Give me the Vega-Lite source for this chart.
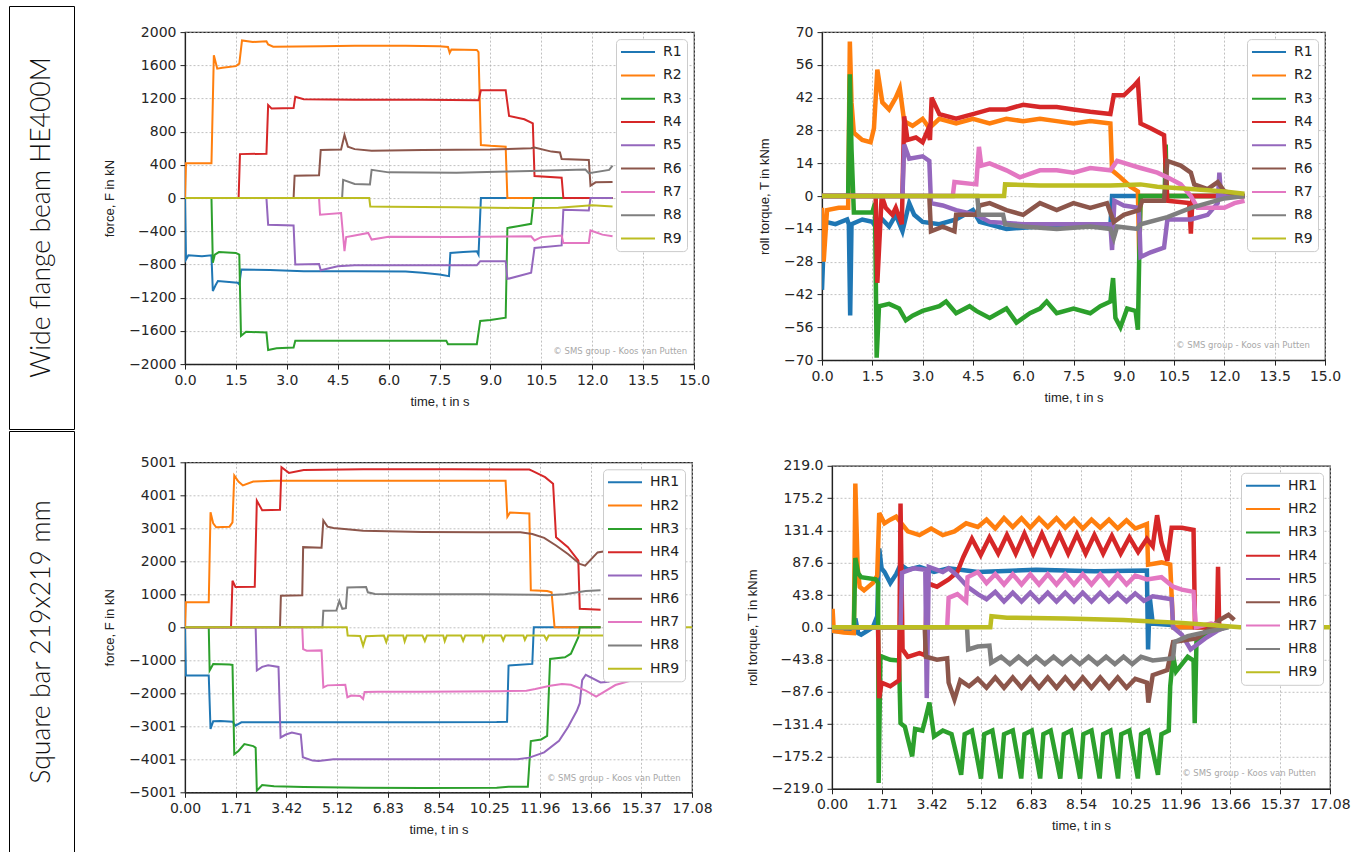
{
"$schema":"https://vega.github.io/schema/vega-lite/v6.json",
"padding":{"left":8,"top":5,"right":0,"bottom":0},
"background":"white",
"config":{
 "font":"Liberation Sans",
 "view":{"stroke":"#222","strokeWidth":1.2},
 "axis":{"labelFont":"DejaVu Sans","labelFontSize":14,"labelColor":"#262626","titleFont":"Liberation Sans","titleFontSize":13,"titleFontWeight":"normal","titleColor":"#222","domainColor":"#222","domainWidth":1.2,"tickColor":"#222","tickSize":5,"tickWidth":1,"gridColor":"#b0b0b0","gridDash":[2,2],"gridWidth":0.8,"labelFlush":false,"labelOverlap":false,"labelPadding":4,"tickCount":11},
 "axisX":{"titlePadding":8},
 "axisY":{"titlePadding":12},
 "legend":{"orient":"top-right","offset":7,"padding":5,"fillColor":"#ffffff","strokeColor":"#cccccc","cornerRadius":4,"symbolType":"M-2.43,0H2.43","symbolSize":196,"symbolStrokeWidth":2,"symbolOffset":9,"labelFont":"DejaVu Sans","labelFontSize":14,"labelColor":"#222","labelOffset":17,"rowPadding":8.3}
},
"datasets":{
"fw":[
{"s":"R1","t":0,"v":0},{"s":"R1","t":0.03,"v":-740},{"s":"R1","t":0.1,"v":-690},{"s":"R1","t":0.5,"v":-700},{"s":"R1","t":0.78,"v":-690},{"s":"R1","t":0.82,"v":-1120},{"s":"R1","t":0.9,"v":-1050},{"s":"R1","t":0.97,"v":-1000},{"s":"R1","t":1.3,"v":-1010},{"s":"R1","t":1.55,"v":-1020},{"s":"R1","t":1.6,"v":-1040},{"s":"R1","t":1.66,"v":-860},{"s":"R1","t":2.5,"v":-865},{"s":"R1","t":3.5,"v":-880},{"s":"R1","t":5,"v":-880},{"s":"R1","t":6.5,"v":-885},{"s":"R1","t":7,"v":-900},{"s":"R1","t":7.5,"v":-920},{"s":"R1","t":7.78,"v":-940},{"s":"R1","t":7.82,"v":-660},{"s":"R1","t":8.2,"v":-650},{"s":"R1","t":8.6,"v":-640},{"s":"R1","t":8.65,"v":-680},{"s":"R1","t":8.72,"v":0},{"s":"R1","t":12.6,"v":0},
{"s":"R2","t":0,"v":0},{"s":"R2","t":0.03,"v":420},{"s":"R2","t":0.78,"v":420},{"s":"R2","t":0.85,"v":1720},{"s":"R2","t":0.95,"v":1560},{"s":"R2","t":1.1,"v":1570},{"s":"R2","t":1.5,"v":1590},{"s":"R2","t":1.6,"v":1620},{"s":"R2","t":1.68,"v":1900},{"s":"R2","t":2.0,"v":1880},{"s":"R2","t":2.4,"v":1890},{"s":"R2","t":2.45,"v":1850},{"s":"R2","t":2.6,"v":1825},{"s":"R2","t":4,"v":1830},{"s":"R2","t":5,"v":1835},{"s":"R2","t":6.5,"v":1835},{"s":"R2","t":7.5,"v":1830},{"s":"R2","t":7.75,"v":1820},{"s":"R2","t":7.8,"v":1750},{"s":"R2","t":7.85,"v":1790},{"s":"R2","t":8.6,"v":1785},{"s":"R2","t":8.65,"v":1760},{"s":"R2","t":8.72,"v":640},{"s":"R2","t":9.0,"v":630},{"s":"R2","t":9.45,"v":620},{"s":"R2","t":9.5,"v":0},{"s":"R2","t":12.6,"v":0},
{"s":"R3","t":0,"v":0},{"s":"R3","t":0.78,"v":0},{"s":"R3","t":0.82,"v":-780},{"s":"R3","t":0.88,"v":-680},{"s":"R3","t":1.0,"v":-650},{"s":"R3","t":1.5,"v":-660},{"s":"R3","t":1.6,"v":-680},{"s":"R3","t":1.65,"v":-1660},{"s":"R3","t":1.8,"v":-1610},{"s":"R3","t":2.4,"v":-1620},{"s":"R3","t":2.45,"v":-1830},{"s":"R3","t":2.7,"v":-1810},{"s":"R3","t":3.2,"v":-1800},{"s":"R3","t":3.25,"v":-1720},{"s":"R3","t":5,"v":-1720},{"s":"R3","t":7.7,"v":-1720},{"s":"R3","t":7.75,"v":-1760},{"s":"R3","t":8.6,"v":-1760},{"s":"R3","t":8.7,"v":-1480},{"s":"R3","t":9.0,"v":-1470},{"s":"R3","t":9.45,"v":-1440},{"s":"R3","t":9.5,"v":-360},{"s":"R3","t":9.8,"v":-340},{"s":"R3","t":10.2,"v":-310},{"s":"R3","t":10.28,"v":0},{"s":"R3","t":12.6,"v":0},
{"s":"R4","t":0,"v":0},{"s":"R4","t":1.58,"v":0},{"s":"R4","t":1.62,"v":530},{"s":"R4","t":2.4,"v":535},{"s":"R4","t":2.45,"v":1120},{"s":"R4","t":2.55,"v":1080},{"s":"R4","t":3.2,"v":1085},{"s":"R4","t":3.25,"v":1220},{"s":"R4","t":3.5,"v":1190},{"s":"R4","t":5,"v":1185},{"s":"R4","t":7,"v":1185},{"s":"R4","t":8.65,"v":1180},{"s":"R4","t":8.72,"v":1300},{"s":"R4","t":9.45,"v":1300},{"s":"R4","t":9.55,"v":990},{"s":"R4","t":10.0,"v":950},{"s":"R4","t":10.25,"v":900},{"s":"R4","t":10.3,"v":265},{"s":"R4","t":11.1,"v":245},{"s":"R4","t":11.15,"v":0},{"s":"R4","t":12.6,"v":0},
{"s":"R5","t":0,"v":0},{"s":"R5","t":2.4,"v":0},{"s":"R5","t":2.45,"v":-320},{"s":"R5","t":3.2,"v":-330},{"s":"R5","t":3.25,"v":-800},{"s":"R5","t":3.95,"v":-795},{"s":"R5","t":4.0,"v":-870},{"s":"R5","t":4.5,"v":-820},{"s":"R5","t":5,"v":-810},{"s":"R5","t":8.6,"v":-810},{"s":"R5","t":8.7,"v":-760},{"s":"R5","t":9.45,"v":-760},{"s":"R5","t":9.5,"v":-975},{"s":"R5","t":10.2,"v":-900},{"s":"R5","t":10.3,"v":-600},{"s":"R5","t":11.1,"v":-570},{"s":"R5","t":11.15,"v":-140},{"s":"R5","t":11.9,"v":-150},{"s":"R5","t":11.95,"v":0},{"s":"R5","t":12.6,"v":0},
{"s":"R6","t":0,"v":0},{"s":"R6","t":3.2,"v":0},{"s":"R6","t":3.23,"v":270},{"s":"R6","t":3.95,"v":275},{"s":"R6","t":4.0,"v":580},{"s":"R6","t":4.6,"v":585},{"s":"R6","t":4.7,"v":760},{"s":"R6","t":4.8,"v":620},{"s":"R6","t":5.0,"v":590},{"s":"R6","t":5.5,"v":570},{"s":"R6","t":7,"v":580},{"s":"R6","t":9,"v":585},{"s":"R6","t":10.2,"v":600},{"s":"R6","t":10.3,"v":610},{"s":"R6","t":10.8,"v":560},{"s":"R6","t":11.05,"v":550},{"s":"R6","t":11.1,"v":470},{"s":"R6","t":11.9,"v":460},{"s":"R6","t":11.95,"v":150},{"s":"R6","t":12.1,"v":190},{"s":"R6","t":12.6,"v":195},
{"s":"R7","t":0,"v":0},{"s":"R7","t":3.95,"v":0},{"s":"R7","t":3.98,"v":-200},{"s":"R7","t":4.6,"v":-180},{"s":"R7","t":4.7,"v":-640},{"s":"R7","t":4.75,"v":-470},{"s":"R7","t":5.0,"v":-450},{"s":"R7","t":5.4,"v":-420},{"s":"R7","t":5.5,"v":-500},{"s":"R7","t":6,"v":-465},{"s":"R7","t":8,"v":-470},{"s":"R7","t":10.2,"v":-460},{"s":"R7","t":10.3,"v":-510},{"s":"R7","t":10.5,"v":-470},{"s":"R7","t":11.1,"v":-450},{"s":"R7","t":11.15,"v":-540},{"s":"R7","t":11.9,"v":-540},{"s":"R7","t":11.95,"v":-390},{"s":"R7","t":12.3,"v":-440},{"s":"R7","t":12.6,"v":-460},
{"s":"R8","t":0,"v":0},{"s":"R8","t":4.63,"v":0},{"s":"R8","t":4.66,"v":220},{"s":"R8","t":5.0,"v":170},{"s":"R8","t":5.45,"v":165},{"s":"R8","t":5.5,"v":340},{"s":"R8","t":6,"v":310},{"s":"R8","t":8,"v":305},{"s":"R8","t":8.6,"v":310},{"s":"R8","t":9.5,"v":320},{"s":"R8","t":10.5,"v":330},{"s":"R8","t":11,"v":335},{"s":"R8","t":11.8,"v":345},{"s":"R8","t":11.9,"v":300},{"s":"R8","t":12.5,"v":340},{"s":"R8","t":12.6,"v":390},
{"s":"R9","t":0,"v":0},{"s":"R9","t":5.43,"v":0},{"s":"R9","t":5.46,"v":-100},{"s":"R9","t":6,"v":-105},{"s":"R9","t":8,"v":-110},{"s":"R9","t":10,"v":-120},{"s":"R9","t":11,"v":-115},{"s":"R9","t":12,"v":-85},{"s":"R9","t":12.6,"v":-100}
],
"tw":[
{"s":"R1","t":0,"v":-40},{"s":"R1","t":0.05,"v":-20},{"s":"R1","t":0.1,"v":-11},{"s":"R1","t":0.4,"v":-12},{"s":"R1","t":0.75,"v":-10},{"s":"R1","t":0.8,"v":-12},{"s":"R1","t":0.84,"v":-51},{"s":"R1","t":0.88,"v":-12},{"s":"R1","t":1.2,"v":-10},{"s":"R1","t":1.5,"v":-11},{"s":"R1","t":1.6,"v":-13},{"s":"R1","t":1.8,"v":-10},{"s":"R1","t":2.0,"v":-13},{"s":"R1","t":2.2,"v":-8},{"s":"R1","t":2.4,"v":-15},{"s":"R1","t":2.6,"v":-3},{"s":"R1","t":2.75,"v":-8},{"s":"R1","t":3.0,"v":-11},{"s":"R1","t":3.5,"v":-12},{"s":"R1","t":4.0,"v":-10},{"s":"R1","t":4.5,"v":-6},{"s":"R1","t":4.7,"v":-11},{"s":"R1","t":5.5,"v":-14},{"s":"R1","t":6.5,"v":-13},{"s":"R1","t":7.5,"v":-12},{"s":"R1","t":8.6,"v":-13},{"s":"R1","t":8.65,"v":0},{"s":"R1","t":12.6,"v":0},
{"s":"R2","t":0,"v":-5},{"s":"R2","t":0.05,"v":-28},{"s":"R2","t":0.15,"v":-6},{"s":"R2","t":0.5,"v":-5},{"s":"R2","t":0.78,"v":-5},{"s":"R2","t":0.83,"v":66},{"s":"R2","t":0.88,"v":40},{"s":"R2","t":0.95,"v":27},{"s":"R2","t":1.2,"v":24},{"s":"R2","t":1.45,"v":23},{"s":"R2","t":1.55,"v":29},{"s":"R2","t":1.65,"v":54},{"s":"R2","t":1.8,"v":40},{"s":"R2","t":2.0,"v":37},{"s":"R2","t":2.2,"v":42},{"s":"R2","t":2.32,"v":46},{"s":"R2","t":2.45,"v":32},{"s":"R2","t":2.7,"v":30},{"s":"R2","t":3.0,"v":33},{"s":"R2","t":3.2,"v":29},{"s":"R2","t":3.5,"v":33},{"s":"R2","t":4,"v":31},{"s":"R2","t":4.5,"v":33},{"s":"R2","t":5,"v":31},{"s":"R2","t":5.5,"v":33},{"s":"R2","t":6,"v":32},{"s":"R2","t":6.5,"v":33},{"s":"R2","t":7,"v":32},{"s":"R2","t":7.5,"v":31},{"s":"R2","t":8,"v":32},{"s":"R2","t":8.6,"v":31},{"s":"R2","t":8.65,"v":11},{"s":"R2","t":8.9,"v":8},{"s":"R2","t":9.2,"v":4},{"s":"R2","t":9.42,"v":2},{"s":"R2","t":9.46,"v":-26},{"s":"R2","t":9.5,"v":0},{"s":"R2","t":12.6,"v":0},
{"s":"R3","t":0,"v":0},{"s":"R3","t":0.78,"v":0},{"s":"R3","t":0.83,"v":52},{"s":"R3","t":0.88,"v":20},{"s":"R3","t":0.95,"v":-7},{"s":"R3","t":1.5,"v":-7},{"s":"R3","t":1.58,"v":-3},{"s":"R3","t":1.63,"v":-69},{"s":"R3","t":1.7,"v":-47},{"s":"R3","t":2.0,"v":-46},{"s":"R3","t":2.3,"v":-48},{"s":"R3","t":2.5,"v":-53},{"s":"R3","t":2.7,"v":-51},{"s":"R3","t":3.0,"v":-49},{"s":"R3","t":3.5,"v":-47},{"s":"R3","t":3.7,"v":-45},{"s":"R3","t":4.0,"v":-50},{"s":"R3","t":4.4,"v":-47},{"s":"R3","t":4.6,"v":-49},{"s":"R3","t":5.0,"v":-52},{"s":"R3","t":5.5,"v":-48},{"s":"R3","t":5.8,"v":-54},{"s":"R3","t":6.2,"v":-50},{"s":"R3","t":6.5,"v":-48},{"s":"R3","t":6.7,"v":-45},{"s":"R3","t":7.0,"v":-50},{"s":"R3","t":7.5,"v":-48},{"s":"R3","t":8.0,"v":-50},{"s":"R3","t":8.3,"v":-47},{"s":"R3","t":8.6,"v":-45},{"s":"R3","t":8.68,"v":-35},{"s":"R3","t":8.75,"v":-52},{"s":"R3","t":8.9,"v":-56},{"s":"R3","t":9.1,"v":-48},{"s":"R3","t":9.35,"v":-49},{"s":"R3","t":9.42,"v":-57},{"s":"R3","t":9.46,"v":-26},{"s":"R3","t":9.5,"v":0},{"s":"R3","t":10.22,"v":0},{"s":"R3","t":10.25,"v":22},{"s":"R3","t":10.28,"v":0},{"s":"R3","t":12.6,"v":0},
{"s":"R4","t":0,"v":0},{"s":"R4","t":1.6,"v":0},{"s":"R4","t":1.65,"v":-37},{"s":"R4","t":1.78,"v":0},{"s":"R4","t":1.9,"v":-5},{"s":"R4","t":2.1,"v":-8},{"s":"R4","t":2.2,"v":-5},{"s":"R4","t":2.38,"v":-12},{"s":"R4","t":2.45,"v":34},{"s":"R4","t":2.55,"v":24},{"s":"R4","t":2.8,"v":25},{"s":"R4","t":3.0,"v":23},{"s":"R4","t":3.15,"v":28},{"s":"R4","t":3.22,"v":24},{"s":"R4","t":3.27,"v":42},{"s":"R4","t":3.5,"v":35},{"s":"R4","t":4.0,"v":33},{"s":"R4","t":4.5,"v":35},{"s":"R4","t":5.0,"v":37},{"s":"R4","t":5.5,"v":37},{"s":"R4","t":6.0,"v":39},{"s":"R4","t":6.5,"v":38},{"s":"R4","t":7.0,"v":38},{"s":"R4","t":7.5,"v":37},{"s":"R4","t":8.0,"v":36},{"s":"R4","t":8.6,"v":35},{"s":"R4","t":8.7,"v":43},{"s":"R4","t":9.0,"v":43},{"s":"R4","t":9.3,"v":47},{"s":"R4","t":9.42,"v":49},{"s":"R4","t":9.5,"v":31},{"s":"R4","t":9.8,"v":29},{"s":"R4","t":10.2,"v":26},{"s":"R4","t":10.3,"v":-2},{"s":"R4","t":10.95,"v":-3},{"s":"R4","t":11.0,"v":-16},{"s":"R4","t":11.05,"v":0},{"s":"R4","t":12.6,"v":0},
{"s":"R5","t":0,"v":0},{"s":"R5","t":2.4,"v":0},{"s":"R5","t":2.45,"v":22},{"s":"R5","t":2.6,"v":16},{"s":"R5","t":3.0,"v":17},{"s":"R5","t":3.2,"v":15},{"s":"R5","t":3.25,"v":-3},{"s":"R5","t":3.6,"v":-4},{"s":"R5","t":4.0,"v":-6},{"s":"R5","t":4.6,"v":-8},{"s":"R5","t":5,"v":-11},{"s":"R5","t":6,"v":-12},{"s":"R5","t":7,"v":-12},{"s":"R5","t":8.6,"v":-12},{"s":"R5","t":8.65,"v":-23},{"s":"R5","t":8.72,"v":-2},{"s":"R5","t":9.0,"v":-4},{"s":"R5","t":9.45,"v":-5},{"s":"R5","t":9.5,"v":-26},{"s":"R5","t":9.8,"v":-24},{"s":"R5","t":10.2,"v":-22},{"s":"R5","t":10.3,"v":-10},{"s":"R5","t":11.0,"v":-10},{"s":"R5","t":11.5,"v":-8},{"s":"R5","t":11.8,"v":-3},{"s":"R5","t":11.85,"v":10},{"s":"R5","t":11.9,"v":0},{"s":"R5","t":12.6,"v":0},
{"s":"R6","t":0,"v":0},{"s":"R6","t":3.2,"v":0},{"s":"R6","t":3.25,"v":-15},{"s":"R6","t":3.6,"v":-13},{"s":"R6","t":3.95,"v":-15},{"s":"R6","t":4.0,"v":-8},{"s":"R6","t":4.6,"v":-8},{"s":"R6","t":4.7,"v":-4},{"s":"R6","t":5.0,"v":-3},{"s":"R6","t":5.5,"v":-6},{"s":"R6","t":6.0,"v":-8},{"s":"R6","t":6.5,"v":-3},{"s":"R6","t":7.0,"v":-6},{"s":"R6","t":7.5,"v":-3},{"s":"R6","t":8.0,"v":-5},{"s":"R6","t":8.5,"v":-3},{"s":"R6","t":8.7,"v":-11},{"s":"R6","t":9.0,"v":-8},{"s":"R6","t":9.45,"v":-6},{"s":"R6","t":9.55,"v":-2},{"s":"R6","t":10.2,"v":-2},{"s":"R6","t":10.3,"v":15},{"s":"R6","t":10.7,"v":13},{"s":"R6","t":11.0,"v":10},{"s":"R6","t":11.1,"v":5},{"s":"R6","t":11.5,"v":3},{"s":"R6","t":11.8,"v":6},{"s":"R6","t":12.0,"v":2},{"s":"R6","t":12.6,"v":0},
{"s":"R7","t":0,"v":0},{"s":"R7","t":3.9,"v":0},{"s":"R7","t":3.95,"v":6},{"s":"R7","t":4.6,"v":5},{"s":"R7","t":4.68,"v":21},{"s":"R7","t":4.75,"v":13},{"s":"R7","t":5.0,"v":14},{"s":"R7","t":5.5,"v":11},{"s":"R7","t":5.9,"v":8},{"s":"R7","t":6.5,"v":11},{"s":"R7","t":7.0,"v":11},{"s":"R7","t":7.5,"v":10},{"s":"R7","t":8.0,"v":12},{"s":"R7","t":8.6,"v":11},{"s":"R7","t":8.8,"v":15},{"s":"R7","t":9.5,"v":12},{"s":"R7","t":10.0,"v":10},{"s":"R7","t":10.3,"v":8},{"s":"R7","t":10.7,"v":5},{"s":"R7","t":11.0,"v":0},{"s":"R7","t":11.2,"v":-5},{"s":"R7","t":12.0,"v":-5},{"s":"R7","t":12.3,"v":-3},{"s":"R7","t":12.6,"v":-2},
{"s":"R8","t":0,"v":0},{"s":"R8","t":4.63,"v":0},{"s":"R8","t":4.68,"v":-8},{"s":"R8","t":5.4,"v":-8},{"s":"R8","t":5.46,"v":-12},{"s":"R8","t":6,"v":-13},{"s":"R8","t":7,"v":-14},{"s":"R8","t":8,"v":-13},{"s":"R8","t":8.6,"v":-14},{"s":"R8","t":8.7,"v":-18},{"s":"R8","t":8.8,"v":-13},{"s":"R8","t":9.4,"v":-14},{"s":"R8","t":9.5,"v":-12},{"s":"R8","t":10.3,"v":-9},{"s":"R8","t":11.0,"v":-5},{"s":"R8","t":11.5,"v":-3},{"s":"R8","t":12.0,"v":-1},{"s":"R8","t":12.6,"v":0},
{"s":"R9","t":0,"v":0},{"s":"R9","t":5.43,"v":0},{"s":"R9","t":5.46,"v":5},{"s":"R9","t":6.5,"v":4.5},{"s":"R9","t":8.6,"v":4.5},{"s":"R9","t":9.5,"v":5},{"s":"R9","t":10,"v":4},{"s":"R9","t":11,"v":3},{"s":"R9","t":12,"v":2},{"s":"R9","t":12.6,"v":1}
],
"fs":[
{"s":"HR1","t":0,"v":0},{"s":"HR1","t":0.03,"v":-1460},{"s":"HR1","t":0.8,"v":-1460},{"s":"HR1","t":0.86,"v":-3080},{"s":"HR1","t":0.95,"v":-2850},{"s":"HR1","t":1.2,"v":-2840},{"s":"HR1","t":1.6,"v":-2860},{"s":"HR1","t":1.7,"v":-2980},{"s":"HR1","t":1.9,"v":-2880},{"s":"HR1","t":5,"v":-2880},{"s":"HR1","t":8,"v":-2880},{"s":"HR1","t":10.5,"v":-2870},{"s":"HR1","t":10.85,"v":-2860},{"s":"HR1","t":10.9,"v":-1160},{"s":"HR1","t":11.7,"v":-1110},{"s":"HR1","t":11.75,"v":0},{"s":"HR1","t":14,"v":0},
{"s":"HR2","t":0,"v":0},{"s":"HR2","t":0.03,"v":760},{"s":"HR2","t":0.8,"v":760},{"s":"HR2","t":0.86,"v":3490},{"s":"HR2","t":0.95,"v":3150},{"s":"HR2","t":1.05,"v":3030},{"s":"HR2","t":1.5,"v":3050},{"s":"HR2","t":1.6,"v":3180},{"s":"HR2","t":1.66,"v":4600},{"s":"HR2","t":1.8,"v":4420},{"s":"HR2","t":1.95,"v":4300},{"s":"HR2","t":2.3,"v":4420},{"s":"HR2","t":3,"v":4440},{"s":"HR2","t":6,"v":4440},{"s":"HR2","t":9,"v":4440},{"s":"HR2","t":10.8,"v":4440},{"s":"HR2","t":10.86,"v":3350},{"s":"HR2","t":10.95,"v":3480},{"s":"HR2","t":11.6,"v":3450},{"s":"HR2","t":11.65,"v":1120},{"s":"HR2","t":12.2,"v":1100},{"s":"HR2","t":12.35,"v":1060},{"s":"HR2","t":12.45,"v":0},{"s":"HR2","t":14,"v":0},
{"s":"HR3","t":0,"v":0},{"s":"HR3","t":0.8,"v":0},{"s":"HR3","t":0.83,"v":-1310},{"s":"HR3","t":0.95,"v":-1110},{"s":"HR3","t":1.5,"v":-1130},{"s":"HR3","t":1.6,"v":-1140},{"s":"HR3","t":1.66,"v":-3850},{"s":"HR3","t":1.8,"v":-3750},{"s":"HR3","t":2.0,"v":-3540},{"s":"HR3","t":2.3,"v":-3600},{"s":"HR3","t":2.38,"v":-3650},{"s":"HR3","t":2.42,"v":-4950},{"s":"HR3","t":2.6,"v":-4780},{"s":"HR3","t":3.0,"v":-4820},{"s":"HR3","t":4,"v":-4840},{"s":"HR3","t":6,"v":-4860},{"s":"HR3","t":8,"v":-4870},{"s":"HR3","t":10.5,"v":-4860},{"s":"HR3","t":10.9,"v":-4830},{"s":"HR3","t":11.55,"v":-4830},{"s":"HR3","t":11.65,"v":-3450},{"s":"HR3","t":12.0,"v":-3400},{"s":"HR3","t":12.2,"v":-3290},{"s":"HR3","t":12.3,"v":-960},{"s":"HR3","t":12.8,"v":-910},{"s":"HR3","t":13.0,"v":-800},{"s":"HR3","t":13.25,"v":-300},{"s":"HR3","t":13.3,"v":0},{"s":"HR3","t":14,"v":0},
{"s":"HR4","t":0,"v":0},{"s":"HR4","t":1.55,"v":0},{"s":"HR4","t":1.6,"v":1410},{"s":"HR4","t":1.7,"v":1220},{"s":"HR4","t":2.35,"v":1230},{"s":"HR4","t":2.42,"v":3840},{"s":"HR4","t":2.6,"v":3550},{"s":"HR4","t":3.2,"v":3560},{"s":"HR4","t":3.25,"v":4850},{"s":"HR4","t":3.5,"v":4680},{"s":"HR4","t":4.0,"v":4770},{"s":"HR4","t":6,"v":4790},{"s":"HR4","t":9,"v":4790},{"s":"HR4","t":11.6,"v":4780},{"s":"HR4","t":11.7,"v":4740},{"s":"HR4","t":12.13,"v":4550},{"s":"HR4","t":12.4,"v":4350},{"s":"HR4","t":12.5,"v":2730},{"s":"HR4","t":12.9,"v":2430},{"s":"HR4","t":13.25,"v":2020},{"s":"HR4","t":13.3,"v":560},{"s":"HR4","t":14,"v":530},
{"s":"HR5","t":0,"v":0},{"s":"HR5","t":2.38,"v":0},{"s":"HR5","t":2.42,"v":-1310},{"s":"HR5","t":2.6,"v":-1200},{"s":"HR5","t":2.8,"v":-1150},{"s":"HR5","t":3.15,"v":-1200},{"s":"HR5","t":3.22,"v":-3340},{"s":"HR5","t":3.4,"v":-3250},{"s":"HR5","t":3.6,"v":-3190},{"s":"HR5","t":3.9,"v":-3250},{"s":"HR5","t":3.97,"v":-3940},{"s":"HR5","t":4.3,"v":-4040},{"s":"HR5","t":4.5,"v":-4050},{"s":"HR5","t":5,"v":-4000},{"s":"HR5","t":8,"v":-4000},{"s":"HR5","t":11.2,"v":-4000},{"s":"HR5","t":11.6,"v":-3950},{"s":"HR5","t":12.1,"v":-3790},{"s":"HR5","t":12.6,"v":-3440},{"s":"HR5","t":12.9,"v":-3030},{"s":"HR5","t":13.2,"v":-2530},{"s":"HR5","t":13.3,"v":-2300},{"s":"HR5","t":13.38,"v":-1600},{"s":"HR5","t":13.5,"v":-1440},{"s":"HR5","t":14.0,"v":-1670},{"s":"HR5","t":14.3,"v":-1650},
{"s":"HR6","t":0,"v":0},{"s":"HR6","t":3.2,"v":0},{"s":"HR6","t":3.23,"v":960},{"s":"HR6","t":3.95,"v":970},{"s":"HR6","t":3.98,"v":2430},{"s":"HR6","t":4.6,"v":2410},{"s":"HR6","t":4.66,"v":3240},{"s":"HR6","t":4.8,"v":3050},{"s":"HR6","t":5.0,"v":3010},{"s":"HR6","t":6.0,"v":2930},{"s":"HR6","t":8,"v":2890},{"s":"HR6","t":10,"v":2880},{"s":"HR6","t":11.3,"v":2880},{"s":"HR6","t":11.7,"v":2830},{"s":"HR6","t":12.1,"v":2710},{"s":"HR6","t":12.5,"v":2480},{"s":"HR6","t":12.9,"v":2220},{"s":"HR6","t":13.3,"v":1920},{"s":"HR6","t":13.48,"v":1870},{"s":"HR6","t":13.9,"v":2270},{"s":"HR6","t":14.3,"v":2330},
{"s":"HR7","t":0,"v":0},{"s":"HR7","t":3.95,"v":0},{"s":"HR7","t":3.98,"v":-660},{"s":"HR7","t":4.1,"v":-710},{"s":"HR7","t":4.6,"v":-700},{"s":"HR7","t":4.66,"v":-1820},{"s":"HR7","t":4.8,"v":-1760},{"s":"HR7","t":5.4,"v":-1740},{"s":"HR7","t":5.47,"v":-2120},{"s":"HR7","t":5.6,"v":-2070},{"s":"HR7","t":5.9,"v":-2080},{"s":"HR7","t":6.0,"v":-2170},{"s":"HR7","t":6.05,"v":-1960},{"s":"HR7","t":6.5,"v":-1950},{"s":"HR7","t":8,"v":-1950},{"s":"HR7","t":10.6,"v":-1940},{"s":"HR7","t":11.5,"v":-1920},{"s":"HR7","t":11.8,"v":-1870},{"s":"HR7","t":12.3,"v":-1770},{"s":"HR7","t":12.7,"v":-1720},{"s":"HR7","t":13.0,"v":-1740},{"s":"HR7","t":13.5,"v":-1920},{"s":"HR7","t":13.85,"v":-2100},{"s":"HR7","t":14.5,"v":-1750},{"s":"HR7","t":15.0,"v":-1620},
{"s":"HR8","t":0,"v":0},{"s":"HR8","t":4.63,"v":0},{"s":"HR8","t":4.66,"v":500},{"s":"HR8","t":5.1,"v":510},{"s":"HR8","t":5.2,"v":800},{"s":"HR8","t":5.3,"v":560},{"s":"HR8","t":5.42,"v":580},{"s":"HR8","t":5.47,"v":1210},{"s":"HR8","t":6.1,"v":1220},{"s":"HR8","t":6.16,"v":1060},{"s":"HR8","t":6.4,"v":1010},{"s":"HR8","t":8,"v":1000},{"s":"HR8","t":10,"v":1000},{"s":"HR8","t":11.8,"v":990},{"s":"HR8","t":12.2,"v":970},{"s":"HR8","t":12.8,"v":1000},{"s":"HR8","t":13.5,"v":1100},{"s":"HR8","t":14.0,"v":1120},
{"s":"HR9","t":0,"v":0},{"s":"HR9","t":5.45,"v":0},{"s":"HR9","t":5.48,"v":-250},{"s":"HR9","t":5.9,"v":-260},{"s":"HR9","t":6.0,"v":-560},{"s":"HR9","t":6.1,"v":-270},{"s":"HR9","t":6.7,"v":-250},{"s":"HR9","t":6.78,"v":-450},{"s":"HR9","t":6.85,"v":-250},{"s":"HR9","t":7.35,"v":-250},{"s":"HR9","t":7.4,"v":-430},{"s":"HR9","t":7.47,"v":-250},{"s":"HR9","t":8.0,"v":-250},{"s":"HR9","t":8.08,"v":-420},{"s":"HR9","t":8.15,"v":-250},{"s":"HR9","t":8.7,"v":-250},{"s":"HR9","t":8.75,"v":-420},{"s":"HR9","t":8.82,"v":-250},{"s":"HR9","t":9.3,"v":-250},{"s":"HR9","t":9.37,"v":-410},{"s":"HR9","t":9.44,"v":-250},{"s":"HR9","t":10.0,"v":-250},{"s":"HR9","t":10.04,"v":-400},{"s":"HR9","t":10.1,"v":-250},{"s":"HR9","t":10.65,"v":-250},{"s":"HR9","t":10.72,"v":-400},{"s":"HR9","t":10.79,"v":-250},{"s":"HR9","t":11.4,"v":-250},{"s":"HR9","t":11.45,"v":-380},{"s":"HR9","t":11.52,"v":-250},{"s":"HR9","t":12.1,"v":-250},{"s":"HR9","t":12.18,"v":-380},{"s":"HR9","t":12.25,"v":-250},{"s":"HR9","t":14.5,"v":-250},{"s":"HR9","t":14.55,"v":0},{"s":"HR9","t":17.08,"v":0}
],
"ts":[
{"s":"HR1","t":0,"v":0},{"s":"HR1","t":0.03,"v":-5},{"s":"HR1","t":0.75,"v":-6},{"s":"HR1","t":0.8,"v":12},{"s":"HR1","t":0.9,"v":-8},{"s":"HR1","t":1.0,"v":-10},{"s":"HR1","t":1.2,"v":-5},{"s":"HR1","t":1.4,"v":0},{"s":"HR1","t":1.55,"v":15},{"s":"HR1","t":1.62,"v":107},{"s":"HR1","t":1.7,"v":80},{"s":"HR1","t":1.8,"v":75},{"s":"HR1","t":2.0,"v":60},{"s":"HR1","t":2.2,"v":72},{"s":"HR1","t":2.35,"v":85},{"s":"HR1","t":2.6,"v":78},{"s":"HR1","t":3.0,"v":82},{"s":"HR1","t":3.5,"v":75},{"s":"HR1","t":4.0,"v":80},{"s":"HR1","t":5,"v":75},{"s":"HR1","t":7,"v":78},{"s":"HR1","t":9,"v":76},{"s":"HR1","t":10.8,"v":77},{"s":"HR1","t":10.84,"v":-30},{"s":"HR1","t":10.9,"v":40},{"s":"HR1","t":11.0,"v":5},{"s":"HR1","t":11.65,"v":3},{"s":"HR1","t":11.7,"v":0},{"s":"HR1","t":13.5,"v":0},
{"s":"HR2","t":0,"v":0},{"s":"HR2","t":0.02,"v":25},{"s":"HR2","t":0.06,"v":-5},{"s":"HR2","t":0.4,"v":-7},{"s":"HR2","t":0.75,"v":-8},{"s":"HR2","t":0.8,"v":195},{"s":"HR2","t":0.88,"v":80},{"s":"HR2","t":0.95,"v":55},{"s":"HR2","t":1.1,"v":50},{"s":"HR2","t":1.4,"v":60},{"s":"HR2","t":1.55,"v":70},{"s":"HR2","t":1.62,"v":155},{"s":"HR2","t":1.8,"v":141},{"s":"HR2","t":2.0,"v":146},{"s":"HR2","t":2.2,"v":150},{"s":"HR2","t":2.4,"v":140},{"s":"HR2","t":2.6,"v":130},{"s":"HR2","t":3.0,"v":125},{"s":"HR2","t":3.4,"v":134},{"s":"HR2","t":3.8,"v":125},{"s":"HR2","t":4.2,"v":130},{"s":"HR2","t":4.6,"v":141},{"s":"HR2","t":5.0,"v":136},{"s":"HR2","t":5.3,"v":146},{"s":"HR2","t":5.6,"v":134},{"s":"HR2","t":5.9,"v":148},{"s":"HR2","t":6.2,"v":136},{"s":"HR2","t":6.5,"v":148},{"s":"HR2","t":6.8,"v":135},{"s":"HR2","t":7.1,"v":148},{"s":"HR2","t":7.4,"v":136},{"s":"HR2","t":7.7,"v":148},{"s":"HR2","t":8.0,"v":135},{"s":"HR2","t":8.3,"v":147},{"s":"HR2","t":8.6,"v":134},{"s":"HR2","t":8.9,"v":146},{"s":"HR2","t":9.2,"v":135},{"s":"HR2","t":9.5,"v":146},{"s":"HR2","t":9.8,"v":134},{"s":"HR2","t":10.1,"v":145},{"s":"HR2","t":10.4,"v":134},{"s":"HR2","t":10.8,"v":140},{"s":"HR2","t":10.84,"v":85},{"s":"HR2","t":11.3,"v":88},{"s":"HR2","t":11.6,"v":85},{"s":"HR2","t":11.65,"v":42},{"s":"HR2","t":11.7,"v":0},{"s":"HR2","t":13.5,"v":0},
{"s":"HR3","t":0,"v":0},{"s":"HR3","t":0.75,"v":0},{"s":"HR3","t":0.8,"v":94},{"s":"HR3","t":0.9,"v":73},{"s":"HR3","t":1.0,"v":68},{"s":"HR3","t":1.5,"v":65},{"s":"HR3","t":1.58,"v":60},{"s":"HR3","t":1.6,"v":-211},{"s":"HR3","t":1.66,"v":-39},{"s":"HR3","t":2.0,"v":-44},{"s":"HR3","t":2.3,"v":-45},{"s":"HR3","t":2.35,"v":-130},{"s":"HR3","t":2.5,"v":-135},{"s":"HR3","t":2.75,"v":-175},{"s":"HR3","t":2.85,"v":-138},{"s":"HR3","t":3.1,"v":-140},{"s":"HR3","t":3.2,"v":-125},{"s":"HR3","t":3.34,"v":-102},{"s":"HR3","t":3.5,"v":-148},{"s":"HR3","t":3.8,"v":-140},{"s":"HR3","t":4.1,"v":-145},{"s":"HR3","t":4.43,"v":-200},{"s":"HR3","t":4.55,"v":-145},{"s":"HR3","t":4.8,"v":-140},{"s":"HR3","t":5.11,"v":-205},{"s":"HR3","t":5.22,"v":-145},{"s":"HR3","t":5.5,"v":-140},{"s":"HR3","t":5.78,"v":-205},{"s":"HR3","t":5.9,"v":-145},{"s":"HR3","t":6.2,"v":-140},{"s":"HR3","t":6.49,"v":-205},{"s":"HR3","t":6.6,"v":-145},{"s":"HR3","t":6.85,"v":-140},{"s":"HR3","t":7.14,"v":-205},{"s":"HR3","t":7.25,"v":-145},{"s":"HR3","t":7.5,"v":-140},{"s":"HR3","t":7.83,"v":-205},{"s":"HR3","t":7.95,"v":-145},{"s":"HR3","t":8.2,"v":-140},{"s":"HR3","t":8.51,"v":-205},{"s":"HR3","t":8.62,"v":-145},{"s":"HR3","t":8.9,"v":-140},{"s":"HR3","t":9.18,"v":-205},{"s":"HR3","t":9.3,"v":-145},{"s":"HR3","t":9.55,"v":-140},{"s":"HR3","t":9.81,"v":-205},{"s":"HR3","t":9.92,"v":-145},{"s":"HR3","t":10.2,"v":-140},{"s":"HR3","t":10.49,"v":-205},{"s":"HR3","t":10.6,"v":-145},{"s":"HR3","t":10.85,"v":-140},{"s":"HR3","t":11.18,"v":-200},{"s":"HR3","t":11.3,"v":-145},{"s":"HR3","t":11.55,"v":-140},{"s":"HR3","t":11.6,"v":-80},{"s":"HR3","t":11.7,"v":-39},{"s":"HR3","t":11.8,"v":-60},{"s":"HR3","t":12.0,"v":-50},{"s":"HR3","t":12.2,"v":-40},{"s":"HR3","t":12.4,"v":-45},{"s":"HR3","t":12.44,"v":-130},{"s":"HR3","t":12.5,"v":-20},{"s":"HR3","t":13.0,"v":-5},{"s":"HR3","t":13.5,"v":0},
{"s":"HR4","t":0,"v":0},{"s":"HR4","t":1.58,"v":0},{"s":"HR4","t":1.62,"v":-96},{"s":"HR4","t":1.7,"v":-75},{"s":"HR4","t":2.0,"v":-80},{"s":"HR4","t":2.3,"v":-72},{"s":"HR4","t":2.35,"v":168},{"s":"HR4","t":2.42,"v":-30},{"s":"HR4","t":2.6,"v":-40},{"s":"HR4","t":3.0,"v":-35},{"s":"HR4","t":3.2,"v":-38},{"s":"HR4","t":3.25,"v":60},{"s":"HR4","t":3.6,"v":55},{"s":"HR4","t":4.0,"v":65},{"s":"HR4","t":4.3,"v":75},{"s":"HR4","t":4.5,"v":95},{"s":"HR4","t":4.8,"v":120},{"s":"HR4","t":5.1,"v":98},{"s":"HR4","t":5.4,"v":122},{"s":"HR4","t":5.7,"v":100},{"s":"HR4","t":6.0,"v":125},{"s":"HR4","t":6.3,"v":100},{"s":"HR4","t":6.6,"v":127},{"s":"HR4","t":6.9,"v":100},{"s":"HR4","t":7.2,"v":127},{"s":"HR4","t":7.5,"v":100},{"s":"HR4","t":7.8,"v":126},{"s":"HR4","t":8.1,"v":100},{"s":"HR4","t":8.4,"v":126},{"s":"HR4","t":8.7,"v":100},{"s":"HR4","t":9.0,"v":125},{"s":"HR4","t":9.3,"v":100},{"s":"HR4","t":9.6,"v":124},{"s":"HR4","t":9.9,"v":100},{"s":"HR4","t":10.2,"v":122},{"s":"HR4","t":10.5,"v":102},{"s":"HR4","t":10.8,"v":120},{"s":"HR4","t":11.0,"v":110},{"s":"HR4","t":11.15,"v":152},{"s":"HR4","t":11.3,"v":115},{"s":"HR4","t":11.5,"v":90},{"s":"HR4","t":11.65,"v":135},{"s":"HR4","t":12.0,"v":135},{"s":"HR4","t":12.4,"v":132},{"s":"HR4","t":12.45,"v":0},{"s":"HR4","t":13.2,"v":0},{"s":"HR4","t":13.24,"v":82},{"s":"HR4","t":13.28,"v":0},{"s":"HR4","t":13.5,"v":0},
{"s":"HR5","t":0,"v":0},{"s":"HR5","t":2.35,"v":0},{"s":"HR5","t":2.4,"v":74},{"s":"HR5","t":2.8,"v":80},{"s":"HR5","t":3.2,"v":78},{"s":"HR5","t":3.25,"v":-96},{"s":"HR5","t":3.32,"v":82},{"s":"HR5","t":3.6,"v":78},{"s":"HR5","t":3.8,"v":75},{"s":"HR5","t":4.0,"v":80},{"s":"HR5","t":4.3,"v":70},{"s":"HR5","t":4.65,"v":55},{"s":"HR5","t":5.0,"v":45},{"s":"HR5","t":5.3,"v":38},{"s":"HR5","t":5.6,"v":48},{"s":"HR5","t":5.9,"v":35},{"s":"HR5","t":6.2,"v":47},{"s":"HR5","t":6.5,"v":35},{"s":"HR5","t":6.8,"v":47},{"s":"HR5","t":7.1,"v":35},{"s":"HR5","t":7.4,"v":47},{"s":"HR5","t":7.7,"v":35},{"s":"HR5","t":8.0,"v":47},{"s":"HR5","t":8.3,"v":35},{"s":"HR5","t":8.6,"v":47},{"s":"HR5","t":8.9,"v":35},{"s":"HR5","t":9.2,"v":47},{"s":"HR5","t":9.5,"v":35},{"s":"HR5","t":9.8,"v":46},{"s":"HR5","t":10.1,"v":35},{"s":"HR5","t":10.4,"v":46},{"s":"HR5","t":10.7,"v":36},{"s":"HR5","t":11.0,"v":42},{"s":"HR5","t":11.65,"v":38},{"s":"HR5","t":11.7,"v":0},{"s":"HR5","t":12.0,"v":-10},{"s":"HR5","t":12.3,"v":-30},{"s":"HR5","t":12.8,"v":-15},{"s":"HR5","t":13.2,"v":-5},{"s":"HR5","t":13.5,"v":0},
{"s":"HR6","t":0,"v":0},{"s":"HR6","t":3.18,"v":0},{"s":"HR6","t":3.22,"v":-40},{"s":"HR6","t":3.6,"v":-44},{"s":"HR6","t":3.95,"v":-42},{"s":"HR6","t":4.0,"v":-75},{"s":"HR6","t":4.2,"v":-98},{"s":"HR6","t":4.4,"v":-72},{"s":"HR6","t":4.7,"v":-80},{"s":"HR6","t":5.0,"v":-70},{"s":"HR6","t":5.3,"v":-82},{"s":"HR6","t":5.6,"v":-68},{"s":"HR6","t":5.9,"v":-82},{"s":"HR6","t":6.2,"v":-68},{"s":"HR6","t":6.5,"v":-82},{"s":"HR6","t":6.8,"v":-68},{"s":"HR6","t":7.1,"v":-82},{"s":"HR6","t":7.4,"v":-68},{"s":"HR6","t":7.7,"v":-82},{"s":"HR6","t":8.0,"v":-68},{"s":"HR6","t":8.3,"v":-82},{"s":"HR6","t":8.6,"v":-68},{"s":"HR6","t":8.9,"v":-82},{"s":"HR6","t":9.2,"v":-68},{"s":"HR6","t":9.5,"v":-82},{"s":"HR6","t":9.8,"v":-68},{"s":"HR6","t":10.1,"v":-82},{"s":"HR6","t":10.4,"v":-70},{"s":"HR6","t":10.8,"v":-75},{"s":"HR6","t":10.85,"v":-102},{"s":"HR6","t":11.0,"v":-65},{"s":"HR6","t":11.5,"v":-58},{"s":"HR6","t":11.7,"v":-20},{"s":"HR6","t":12.5,"v":-15},{"s":"HR6","t":13.0,"v":0},{"s":"HR6","t":13.3,"v":10},{"s":"HR6","t":13.6,"v":17},{"s":"HR6","t":13.8,"v":10},
{"s":"HR7","t":0,"v":0},{"s":"HR7","t":3.95,"v":0},{"s":"HR7","t":4.0,"v":40},{"s":"HR7","t":4.3,"v":45},{"s":"HR7","t":4.6,"v":35},{"s":"HR7","t":4.65,"v":68},{"s":"HR7","t":5.0,"v":75},{"s":"HR7","t":5.3,"v":60},{"s":"HR7","t":5.6,"v":72},{"s":"HR7","t":5.9,"v":58},{"s":"HR7","t":6.2,"v":72},{"s":"HR7","t":6.5,"v":58},{"s":"HR7","t":6.8,"v":72},{"s":"HR7","t":7.1,"v":58},{"s":"HR7","t":7.4,"v":72},{"s":"HR7","t":7.7,"v":58},{"s":"HR7","t":8.0,"v":72},{"s":"HR7","t":8.3,"v":58},{"s":"HR7","t":8.6,"v":72},{"s":"HR7","t":8.9,"v":58},{"s":"HR7","t":9.2,"v":72},{"s":"HR7","t":9.5,"v":58},{"s":"HR7","t":9.8,"v":72},{"s":"HR7","t":10.1,"v":58},{"s":"HR7","t":10.4,"v":70},{"s":"HR7","t":10.8,"v":65},{"s":"HR7","t":11.3,"v":68},{"s":"HR7","t":11.7,"v":55},{"s":"HR7","t":12.0,"v":51},{"s":"HR7","t":12.4,"v":48},{"s":"HR7","t":12.48,"v":0},{"s":"HR7","t":13.0,"v":5},{"s":"HR7","t":13.5,"v":0},
{"s":"HR8","t":0,"v":0},{"s":"HR8","t":4.63,"v":0},{"s":"HR8","t":4.67,"v":-30},{"s":"HR8","t":5.0,"v":-26},{"s":"HR8","t":5.4,"v":-25},{"s":"HR8","t":5.46,"v":-48},{"s":"HR8","t":5.8,"v":-40},{"s":"HR8","t":6.1,"v":-50},{"s":"HR8","t":6.4,"v":-40},{"s":"HR8","t":6.7,"v":-50},{"s":"HR8","t":7.0,"v":-40},{"s":"HR8","t":7.3,"v":-50},{"s":"HR8","t":7.6,"v":-40},{"s":"HR8","t":7.9,"v":-50},{"s":"HR8","t":8.2,"v":-40},{"s":"HR8","t":8.5,"v":-50},{"s":"HR8","t":8.8,"v":-40},{"s":"HR8","t":9.1,"v":-50},{"s":"HR8","t":9.4,"v":-40},{"s":"HR8","t":9.7,"v":-50},{"s":"HR8","t":10.0,"v":-40},{"s":"HR8","t":10.3,"v":-50},{"s":"HR8","t":10.6,"v":-40},{"s":"HR8","t":11.0,"v":-45},{"s":"HR8","t":11.7,"v":-42},{"s":"HR8","t":11.75,"v":-20},{"s":"HR8","t":12.2,"v":-12},{"s":"HR8","t":13.0,"v":-5},{"s":"HR8","t":13.6,"v":0},
{"s":"HR9","t":0,"v":0},{"s":"HR9","t":5.43,"v":0},{"s":"HR9","t":5.47,"v":15},{"s":"HR9","t":6,"v":13},{"s":"HR9","t":8,"v":12},{"s":"HR9","t":10,"v":10},{"s":"HR9","t":11,"v":8},{"s":"HR9","t":12,"v":6},{"s":"HR9","t":13,"v":3},{"s":"HR9","t":14,"v":0},{"s":"HR9","t":17.08,"v":0}
]
},
"hconcat":[
 {"vconcat":[
  {"width":65,"height":423,"view":{"stroke":"#000","strokeWidth":1},
   "data":{"values":[{"lab":"Wide flange beam HE400M"}]},
   "mark":{"type":"text","angle":270,"font":"Lato","fontWeight":300,"fontSize":26.5,"color":"#111","align":"center","baseline":"middle"},
   "encoding":{"text":{"field":"lab"}}},
  {"width":65,"height":422,"view":{"stroke":"#000","strokeWidth":1},
   "data":{"values":[{"lab":"Square bar 219x219 mm"}]},
   "mark":{"type":"text","angle":270,"font":"Lato","fontWeight":300,"fontSize":26.5,"color":"#111","align":"center","baseline":"middle"},
   "encoding":{"text":{"field":"lab"}}},
  {"width":65,"height":9,"view":{"stroke":null},
   "data":{"values":[]},
   "mark":{"type":"text"},
   "encoding":{}}
 ],"spacing":0},
 {"vconcat":[
  {"hconcat":[
   {"width":509,"height":332,
    "layer":[
     {"data":{"name":"fw"},"mark":{"type":"line","strokeWidth":2,"clip":true},
      "encoding":{
       "x":{"field":"t","type":"quantitative","scale":{"domain":[0,15],"nice":false,"zero":false},"axis":{"title":"time, t in s","values":[0,1.5,3,4.5,6,7.5,9,10.5,12,13.5,15],"format":".1f","labelOverlap":false,"tickCount":11}},
       "y":{"field":"v","type":"quantitative","scale":{"domain":[-2000,2000],"nice":false,"zero":false},"axis":{"title":"force, F in kN","values":[-2000,-1600,-1200,-800,-400,0,400,800,1200,1600,2000],"format":"d","labelOverlap":false,"tickCount":11}},
       "color":{"field":"s","type":"nominal","scale":{"scheme":"category10"},"legend":{"title":null}}}},
     {"data":{"values":[{"note":"© SMS group - Koos van Putten"}]},"mark":{"type":"text","align":"right","baseline":"middle","fontSize":8.5,"color":"#a8a8a8","font":"DejaVu Sans"},
      "encoding":{"x":{"datum":14.8},"y":{"datum":-1840},"text":{"field":"note"}}}
    ]},
   {"width":503,"height":328,
    "layer":[
     {"data":{"name":"tw"},"mark":{"type":"line","strokeWidth":4.5,"clip":true},
      "encoding":{
       "x":{"field":"t","type":"quantitative","scale":{"domain":[0,15],"nice":false,"zero":false},"axis":{"title":"time, t in s","values":[0,1.5,3,4.5,6,7.5,9,10.5,12,13.5,15],"format":".1f","labelOverlap":false,"tickCount":11}},
       "y":{"field":"v","type":"quantitative","scale":{"domain":[-70,70],"nice":false,"zero":false},"axis":{"title":"roll torque, T in kNm","values":[-70,-56,-42,-28,-14,0,14,28,42,56,70],"format":"d","labelOverlap":false,"tickCount":11}},
       "color":{"field":"s","type":"nominal","scale":{"scheme":"category10"},"legend":{"title":null}}}},
     {"data":{"values":[{"note":"© SMS group - Koos van Putten"}]},"mark":{"type":"text","align":"right","baseline":"middle","fontSize":8.5,"color":"#a8a8a8","font":"DejaVu Sans"},
      "encoding":{"x":{"datum":14.55},"y":{"datum":-63.5},"text":{"field":"note"}}}
    ]}
  ],"spacing":46,"resolve":{"scale":{"color":"independent"},"legend":{"color":"independent"}}},
  {"hconcat":[
   {"width":507,"height":330,
    "layer":[
     {"data":{"name":"fs"},"mark":{"type":"line","strokeWidth":2,"clip":true},
      "encoding":{
       "x":{"field":"t","type":"quantitative","scale":{"domain":[0,17.08],"nice":false,"zero":false},"axis":{"title":"time, t in s","values":[0,1.708,3.416,5.124,6.832,8.54,10.248,11.956,13.664,15.372,17.08],"format":".2f","labelOverlap":false,"tickCount":11}},
       "y":{"field":"v","type":"quantitative","scale":{"domain":[-5001,5001],"nice":false,"zero":false},"axis":{"title":"force, F in kN","values":[-5001,-4000.8,-3000.6,-2000.4,-1000.2,0,1000.2,2000.4,3000.6,4000.8,5001],"format":".0f","labelOverlap":false,"tickCount":11}},
       "color":{"field":"s","type":"nominal","scale":{"scheme":"category10"},"legend":{"title":null}}}},
     {"data":{"values":[{"note":"© SMS group - Koos van Putten"}]},"mark":{"type":"text","align":"right","baseline":"middle","fontSize":8.5,"color":"#a8a8a8","font":"DejaVu Sans"},
      "encoding":{"x":{"datum":16.7},"y":{"datum":-4580},"text":{"field":"note"}}}
    ]},
   {"width":498,"height":323,
    "layer":[
     {"data":{"name":"ts"},"mark":{"type":"line","strokeWidth":4.5,"clip":true},
      "encoding":{
       "x":{"field":"t","type":"quantitative","scale":{"domain":[0,17.08],"nice":false,"zero":false},"axis":{"title":"time, t in s","values":[0,1.708,3.416,5.124,6.832,8.54,10.248,11.956,13.664,15.372,17.08],"format":".2f","labelOverlap":false,"tickCount":11}},
       "y":{"field":"v","type":"quantitative","scale":{"domain":[-219,219],"nice":false,"zero":false},"axis":{"title":"roll torque, T in kNm","values":[-219,-175.2,-131.4,-87.6,-43.8,0,43.8,87.6,131.4,175.2,219],"format":".1f","labelOverlap":false,"tickCount":11}},
       "color":{"field":"s","type":"nominal","scale":{"scheme":"category10"},"legend":{"title":null}}}},
     {"data":{"values":[{"note":"© SMS group - Koos van Putten"}]},"mark":{"type":"text","align":"right","baseline":"middle","fontSize":8.5,"color":"#a8a8a8","font":"DejaVu Sans"},
      "encoding":{"x":{"datum":16.6},"y":{"datum":-197},"text":{"field":"note"}}}
    ]}
  ],"spacing":32,"center":true,"resolve":{"scale":{"color":"independent"},"legend":{"color":"independent"}}}
 ],"spacing":45,"resolve":{"scale":{"color":"independent"},"legend":{"color":"independent"}}}
],
"spacing":28,
"center":true,
"resolve":{"scale":{"color":"independent"},"legend":{"color":"independent"}}
}
